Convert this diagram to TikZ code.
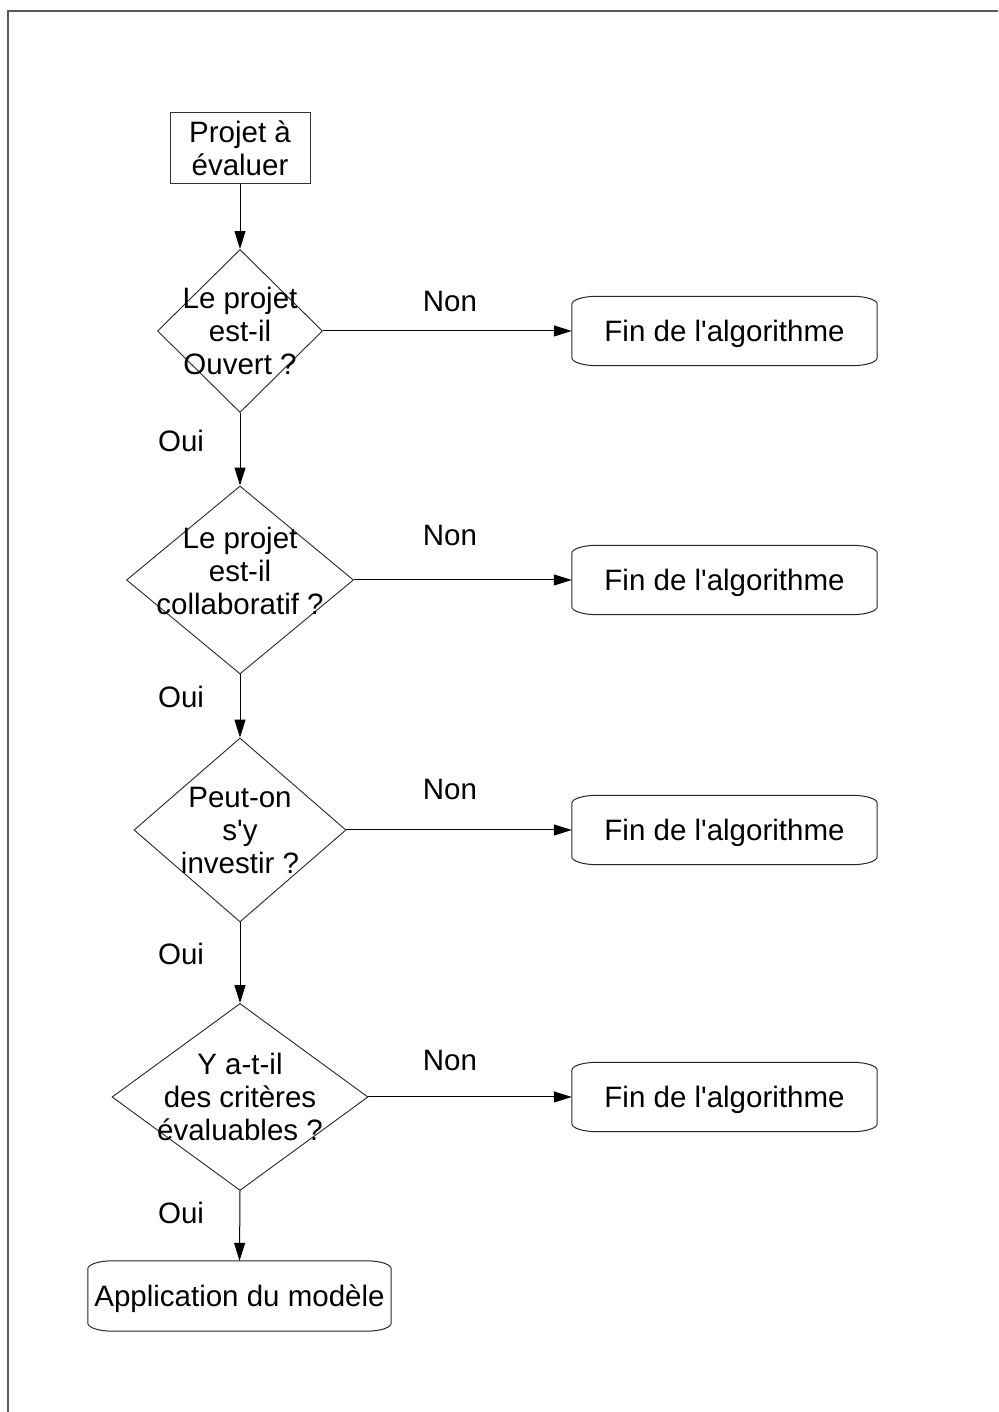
\documentclass[tikz,border=0pt]{standalone}
\usepackage{fontspec}
\setmainfont{Liberation Sans}
\usetikzlibrary{shapes.geometric,arrows.meta}
\begin{document}
\begin{tikzpicture}[x=1pt,y=1pt,
  txt/.style={font=\fontsize{29.5}{33}\selectfont, align=center, inner sep=0pt},
  lbl/.style={font=\fontsize{29.5}{33}\selectfont, inner sep=0pt, anchor=base},
  startbox/.style={draw=black!80, line width=1pt, rectangle, minimum width=140pt, minimum height=71pt, inner sep=0pt, font=\fontsize{29.5}{33}\selectfont, align=center},
  dia/.style={draw=black!85, line width=0.9pt, diamond, inner sep=0pt, shape aspect=1},
  endbox/.style={rectangle, minimum width=305pt, minimum height=69pt, inner sep=0pt, text height=24pt, text depth=3pt, font=\fontsize{29.5}{33}\selectfont},
  outline/.style={draw=black!85, line width=1pt},
  conn/.style={draw=black, line width=1pt, -{Triangle[length=18pt,width=11pt]}},
  framel/.style={draw=black!65, line width=1.2pt}
]
\useasboundingbox (0,0) rectangle (998,1412);
\draw[framel] (8,0) -- (8,1401) -- (998,1401);

% nodes
\node[startbox] (start) at (240,1263.5) {Projet à\\évaluer};

\node[dia, minimum width=165pt, minimum height=163pt] (d1) at (240,1081) {};
\node[txt] (t1) at (240,1081) {Le projet\\est-il\\Ouvert ?};

\node[dia, minimum width=227pt, minimum height=188pt] (d2) at (240,832) {};
\node[txt] (t2) at (240,841) {Le projet\\est-il\\collaboratif ?};

\node[dia, minimum width=212pt, minimum height=184pt] (d3) at (240,582) {};
\node[txt] (t3) at (240,581) {Peut-on\\s\textquotesingle y\\investir ?};

\node[dia, minimum width=256pt, minimum height=187pt] (d4) at (240,315) {};
\node[txt] (t4) at (240,315) {Y a-t-il\\des critères\\évaluables ?};

\node[endbox] (f1) at (724.5,1081) {Fin de l\textquotesingle algorithme};
\node[endbox] (f2) at (724.5,832) {Fin de l\textquotesingle algorithme};
\node[endbox] (f3) at (724.5,582) {Fin de l\textquotesingle algorithme};
\node[endbox] (f4) at (724.5,315) {Fin de l\textquotesingle algorithme};
\node[endbox, minimum width=303pt, minimum height=70pt] (app) at (239.5,116) {Application du modèle};

% rounded outlines of end boxes
\foreach \n in {f1,f2,f3,f4,app}{
  \draw[outline] ([xshift=25pt]\n.north west) -- ([xshift=-25pt]\n.north east)
    arc[start angle=90, end angle=0, x radius=25pt, y radius=8pt]
    -- ([yshift=8pt]\n.south east)
    arc[start angle=0, end angle=-90, x radius=25pt, y radius=8pt]
    -- ([xshift=25pt]\n.south west)
    arc[start angle=270, end angle=180, x radius=25pt, y radius=8pt]
    -- ([yshift=-8pt]\n.north west)
    arc[start angle=180, end angle=90, x radius=25pt, y radius=8pt]
    -- cycle;
}

% connectors
\draw[conn] (start.south) -- (d1.north);
\draw[conn] (d1.south) -- (d2.north);
\draw[conn] (d2.south) -- (d3.north);
\draw[conn] (d3.south) -- (d4.north);
\draw[conn] (d4.south) -- (app.north);
\draw[conn] (d1.east) -- (f1.west);
\draw[conn] (d2.east) -- (f2.west);
\draw[conn] (d3.east) -- (f3.west);
\draw[conn] (d4.east) -- (f4.west);

% labels
\node[lbl] (n1) at (450,1100) {Non};
\node[lbl] (n2) at (450,866) {Non};
\node[lbl] (n3) at (450,612) {Non};
\node[lbl] (n4) at (450,341) {Non};
\node[lbl] (o1) at (181,960) {Oui};
\node[lbl] (o2) at (181,704) {Oui};
\node[lbl] (o3) at (181,447) {Oui};
\node[lbl] (o4) at (181,188) {Oui};
\end{tikzpicture}
\end{document}
